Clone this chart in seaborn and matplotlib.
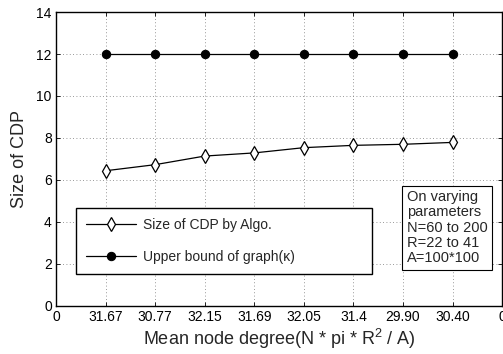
import matplotlib
matplotlib.use("Agg")
import matplotlib.pyplot as plt
import seaborn as sns
import pandas as pd

# Tick labels along the x axis (mean node degree per configuration)
degree_labels = ["0", "31.67", "30.77", "32.15", "31.69", "32.05", "31.4", "29.90", "30.40", "0"]
positions = [1, 2, 3, 4, 5, 6, 7, 8]
cdp_size = [6.44, 6.73, 7.14, 7.29, 7.54, 7.65, 7.70, 7.79]
upper_bound = [12, 12, 12, 12, 12, 12, 12, 12]

df = pd.DataFrame({"pos": positions, "cdp": cdp_size, "ub": upper_bound})

sns.set_style("ticks")
plt.rcParams["font.family"] = ["Liberation Sans", "DejaVu Sans"]
plt.rcParams["mathtext.fontset"] = "custom"
plt.rcParams["mathtext.rm"] = "Liberation Sans"
plt.rcParams["mathtext.it"] = "Liberation Sans"

fig = plt.figure(figsize=(5.03, 3.54), dpi=100)
ax = fig.add_axes([0.1113, 0.1356, 0.887, 0.8305])

sns.lineplot(data=df, x="pos", y="cdp", ax=ax, color="black", lw=0.9,
             marker="d", markersize=7.5, markerfacecolor="white",
             markeredgecolor="black", markeredgewidth=0.9,
             label="Size of CDP by Algo.")
sns.lineplot(data=df, x="pos", y="ub", ax=ax, color="black", lw=0.9,
             marker="o", markersize=6, markerfacecolor="black",
             markeredgecolor="black",
             label="Upper bound of graph(\u03ba)")

ax.set_xlim(0, 9)
ax.set_ylim(0, 14)
ax.set_xticks(range(10))
ax.set_xticklabels(degree_labels)
ax.set_yticks(range(0, 15, 2))
ax.tick_params(direction="in", length=3, width=0.6, labelsize=10,
               top=True, right=True, pad=3, colors="black")
for s in ax.spines.values():
    s.set_linewidth(1.0)
    s.set_color("black")
ax.grid(True, linestyle=(0, (1, 3)), color="#777777", linewidth=0.6)

ax.set_xlabel("Mean node degree(N * pi * R$^2$ / A)", fontsize=13, labelpad=2)
ax.set_ylabel("Size of CDP", fontsize=13, labelpad=6)

leg = ax.legend(loc="lower left", bbox_to_anchor=(0.045, 0.109, 0.664, 0.218),
                mode="expand", borderaxespad=0, fontsize=10, handlelength=3.6,
                handletextpad=0.5, labelspacing=1.3, borderpad=0.7,
                fancybox=False, framealpha=1, edgecolor="black")
leg.get_frame().set_linewidth(1.0)

ax.text(0.786, 0.394, "On varying\nparameters\nN=60 to 200\nR=22 to 41\nA=100*100",
        transform=ax.transAxes, fontsize=10.5, va="top", ha="left",
        linespacing=1.12,
        bbox=dict(boxstyle="square,pad=0.3", facecolor="white",
                  edgecolor="black", linewidth=0.8))

fig.savefig("out.png", dpi=100)
